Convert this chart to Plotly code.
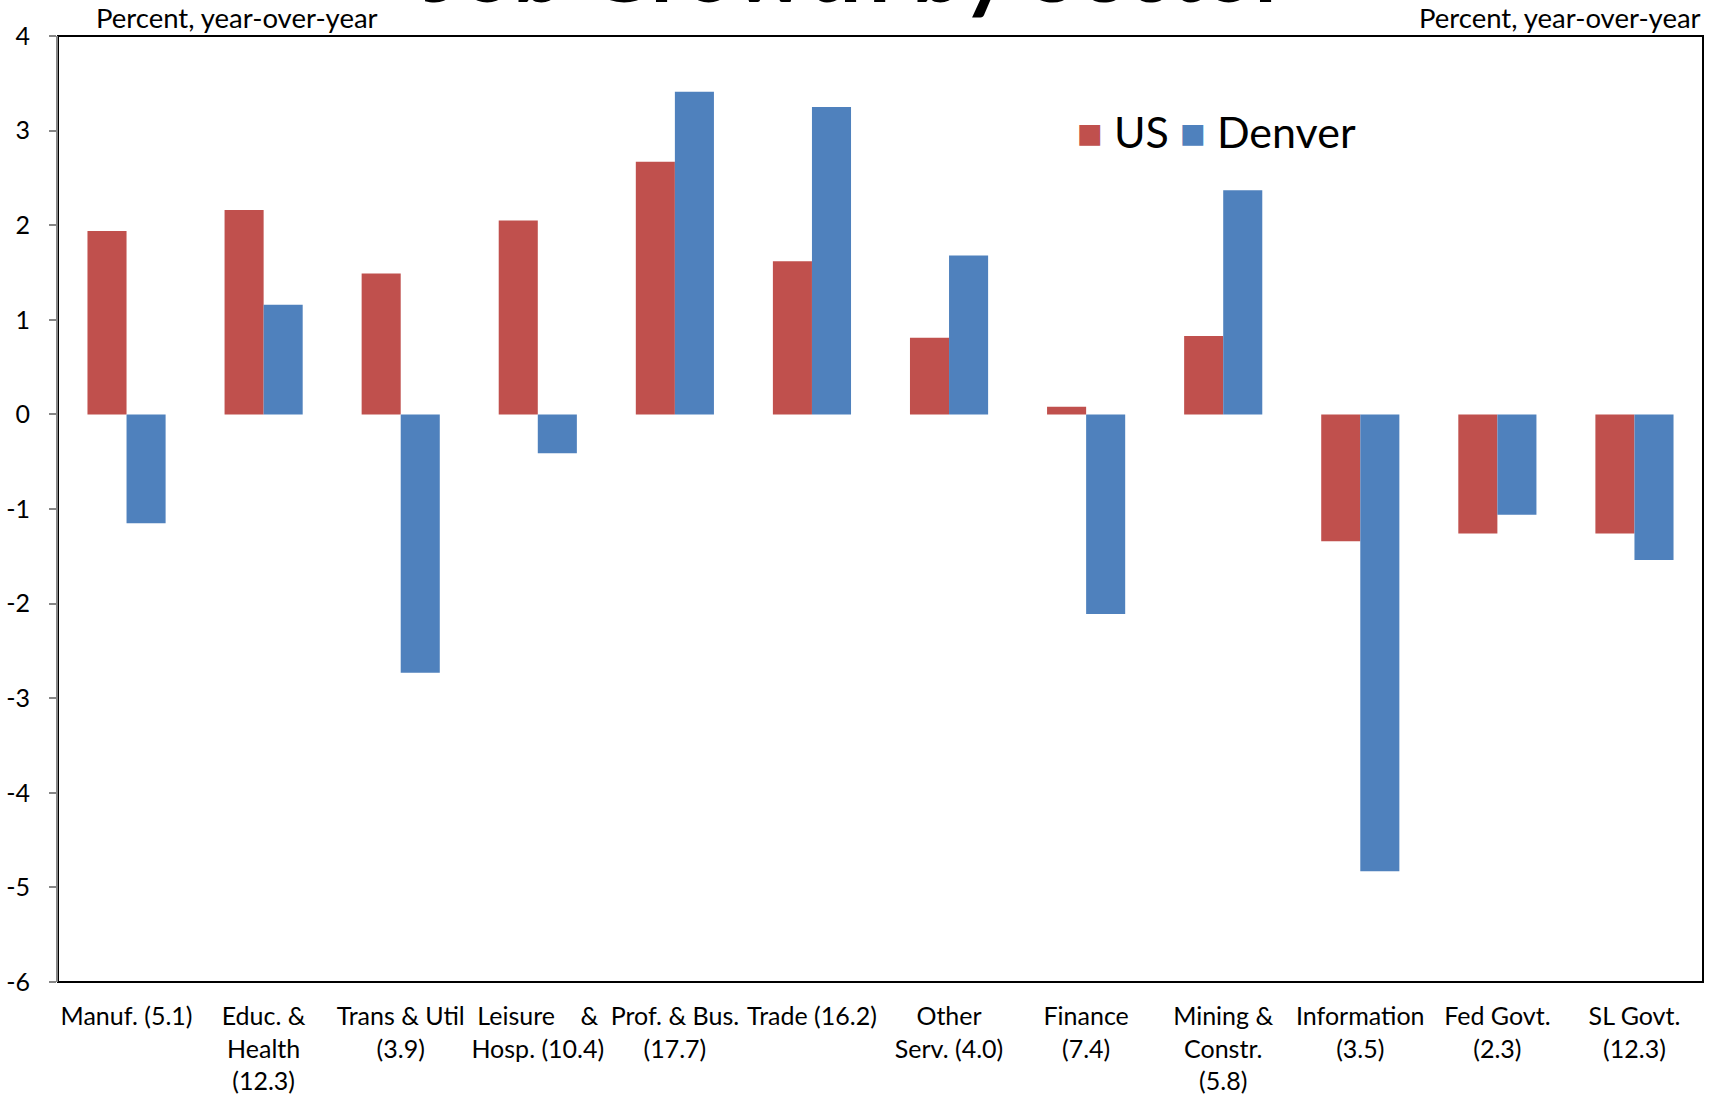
import plotly.graph_objects as go

# sector labels (share of Denver employment in parentheses)
sectors = [
    'Manuf. (5.1)',
    'Educ. &<br>Health<br>(12.3)',
    'Trans & Util<br>(3.9)',
    'Leisure\u00a0\u00a0\u00a0\u00a0&<br>Hosp. (10.4)',
    'Prof. & Bus.<br>(17.7)',
    'Trade (16.2)',
    'Other<br>Serv. (4.0)',
    'Finance<br>(7.4)',
    'Mining &<br>Constr.<br>(5.8)',
    'Information<br>(3.5)',
    'Fed Govt.<br>(2.3)',
    'SL Govt.<br>(12.3)',
]
us = [1.94, 2.16, 1.49, 2.05, 2.67, 1.62, 0.81, 0.08, 0.83, -1.34, -1.26, -1.26]
denver = [-1.15, 1.16, -2.73, -0.41, 3.41, 3.25, 1.68, -2.11, 2.37, -4.83, -1.06, -1.54]
y_ticks = [4, 3, 2, 1, 0, -1, -2, -3, -4, -5, -6]
y_tick_text = ['4', '3', '2', '1', '0', '-1', '-2', '-3', '-4', '-5', '-6']

FONT = 'Lato, Open Sans, sans-serif'
GRAY = '#868686'
RED = '#C0504D'
BLUE = '#4F81BD'

fig = go.Figure(data=[
    go.Bar(
        name='US',
        x=sectors,
        y=us,
        marker_color=RED,
        marker_line_width=0),
    go.Bar(
        name='Denver',
        x=sectors,
        y=denver,
        marker_color=BLUE,
        marker_line_width=0)])

fig.update_layout(
    width=1721,
    height=1097,
    margin=dict(l=58, r=18, t=36, b=115),
    plot_bgcolor='white',
    paper_bgcolor='white',
    font=dict(family=FONT, size=25, color='black'),
    barmode='group',
    bargap=0.43,
    bargroupgap=0,
    showlegend=False,
    xaxis=dict(
        type='category',
        automargin=False,
        showgrid=False,
        showline=False,
        ticks='',
        ticklabelstandoff=17,
        tickfont=dict(size=25),
        range=[-0.5, 11.5]),
    yaxis=dict(
        range=[-6, 4],
        automargin=False,
        tickvals=y_ticks,
        ticktext=y_tick_text,
        showgrid=False,
        zeroline=False,
        showline=True,
        linecolor=GRAY,
        linewidth=2,
        ticks='outside',
        ticklen=7,
        tickcolor=GRAY,
        tickwidth=2,
        ticklabelstandoff=14,
        tickfont=dict(size=25)),
    # axis line through zero carrying the category boundary ticks
    xaxis2=dict(
        overlaying='x',
        anchor='free',
        position=0.6,
        side='bottom',
        automargin=False,
        range=[-0.5, 11.5],
        tickmode='linear',
        tick0=0.5,
        dtick=1,
        showgrid=False,
        zeroline=False,
        showline=True,
        linecolor=GRAY,
        linewidth=2,
        ticks='outside',
        ticklen=8,
        tickcolor=GRAY,
        tickwidth=2,
        showticklabels=False))

# plot border: black, left side left to the gray y axis
fig.add_shape(
    type='rect', xref='paper', yref='paper',
    x0=0, x1=1, y0=0, y1=1,
    line=dict(color='black', width=2),
    layer='below')

fig.add_annotation(
    text='Percent, year-over-year', xref='paper', yref='paper',
    x=0.0218, y=1, xanchor='left', yanchor='bottom', yshift=0,
    showarrow=False, font=dict(size=27.5))
fig.add_annotation(
    text='Percent, year-over-year', xref='paper', yref='paper',
    x=1, y=1, xanchor='right', yanchor='bottom', yshift=0,
    showarrow=False, font=dict(size=27.5))

# legend drawn as text so the swatches can be as big as the source's
fig.add_annotation(
    text=('<span style="color:%s">\u25A0</span> US '
          '<span style="color:%s">\u25A0</span> Denver') % (RED, BLUE),
    xref='paper', yref='paper',
    x=0.618, y=0.899, xanchor='left', yanchor='middle',
    showarrow=False, font=dict(size=43))

# title sits mostly above the page, as in the source image
fig.add_annotation(
    text='<b>Job Growth by Sector</b>', xref='paper', yref='paper',
    x=0.485, y=1, xanchor='center', yanchor='bottom', yshift=13,
    showarrow=False, font=dict(size=90))

# drop the default 8px body margin so the figure fills the window
fig.write_html(
    "out.html",
    config={'displayModeBar': False},
    post_script="document.body.style.margin='0';")
